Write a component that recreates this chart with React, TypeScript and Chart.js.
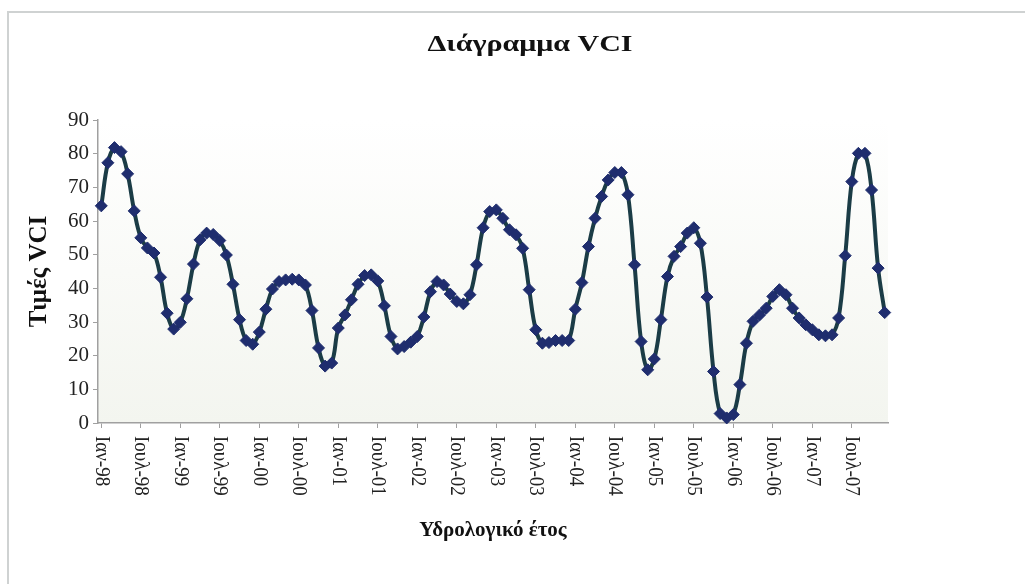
import React, { useEffect, useRef } from 'react';
import { Chart, registerables } from 'chart.js';

Chart.register(...registerables);

const monthNames = ['Ιαν', 'Φεβ', 'Μαρ', 'Απρ', 'Μαϊ', 'Ιουν', 'Ιουλ', 'Αυγ', 'Σεπ', 'Οκτ', 'Νοε', 'Δεκ'];
const years = ['98', '99', '00', '01', '02', '03', '04', '05', '06', '07'];
const categories = years.flatMap((y) => monthNames.map((m) => `${m}-${y}`));

const vciValues = [
  64.5, 77.3, 81.8, 80.6, 74, 63, 55, 52, 50.5, 43.3, 32.6, 27.9,
  29.9, 36.9, 47.2, 54.4, 56.4, 56, 54.2, 49.9, 41.2, 30.7, 24.5, 23.4,
  27, 33.8, 39.8, 42, 42.5, 42.7, 42.5, 41, 33.4, 22.3, 16.9, 17.8,
  28.2, 32.1, 36.6, 41.2, 43.8, 44, 42.2, 34.8, 25.7, 22, 22.7, 24,
  25.7, 31.5, 39, 42, 41, 38.3, 36.1, 35.4, 38.1, 47, 58, 62.8,
  63.3, 60.8, 57.4, 55.9, 51.9, 39.6, 27.7, 23.7, 23.9, 24.5, 24.5, 24.5,
  33.8, 41.7, 52.4, 60.8, 67.3, 72.2, 74.4, 74.4, 67.8, 47, 24.2, 15.8,
  19, 30.7, 43.5, 49.5, 52.4, 56.4, 58, 53.4, 37.4, 15.3, 2.8, 1.5,
  2.5, 11.4, 23.7, 30.2, 32.1, 34.1, 37.6, 39.6, 38.1, 34.1, 31.2, 29.2,
  27.7, 26.2, 25.9, 26.2, 31.2, 49.7, 71.7, 80.1, 80.1, 69.2, 46, 32.8,
];

const yMin = 0;
const yMax = 90;
const yStep = 10;
const labelEvery = 6;

const chartTitle = 'Διάγραμμα VCI';
const yAxisTitle = 'Τιμές VCI';
const xAxisTitle = 'Υδρολογικό έτος';

const FONT = '"Liberation Serif", "Times New Roman", serif';

const decorPlugin = {
  id: 'decor',
  beforeDraw(chart: any) {
    const { ctx, chartArea } = chart;
    ctx.save();
    const g = ctx.createLinearGradient(0, chartArea.top, 0, chartArea.bottom);
    g.addColorStop(0, '#ffffff');
    g.addColorStop(1, '#f3f5ef');
    ctx.fillStyle = g;
    ctx.fillRect(chartArea.left, chartArea.top, chartArea.right - chartArea.left, chartArea.bottom - chartArea.top);
    // outer frame
    ctx.strokeStyle = '#cfd2d2';
    ctx.lineWidth = 2;
    ctx.beginPath();
    ctx.moveTo(8, chart.height);
    ctx.lineTo(8, 12);
    ctx.lineTo(chart.width, 12);
    ctx.stroke();
    ctx.restore();
  },
  afterDraw(chart: any) {
    const { ctx, chartArea } = chart;
    const xScale = chart.scales.x;
    ctx.save();
    // chart title (slightly widened like the scanned original)
    ctx.fillStyle = '#111111';
    ctx.font = `bold 24px ${FONT}`;
    ctx.textAlign = 'center';
    ctx.textBaseline = 'middle';
    ctx.save();
    ctx.translate(530, 45);
    ctx.scale(1.25, 1);
    ctx.fillText(chartTitle, 0, 0);
    ctx.restore();
    // rotated category labels (reading top to bottom)
    ctx.font = `19px ${FONT}`;
    ctx.fillStyle = '#222222';
    ctx.textAlign = 'left';
    ctx.textBaseline = 'middle';
    for (let i = 0; i < categories.length; i += labelEvery) {
      const x = xScale.getPixelForValue(i);
      ctx.save();
      ctx.translate(x, chartArea.bottom + 13);
      ctx.rotate(Math.PI / 2);
      ctx.scale(1, 1.15);
      ctx.fillText(categories[i], 0, 0);
      ctx.restore();
    }
    ctx.restore();
  },
};

export default function App() {
  const canvasRef = useRef<HTMLCanvasElement | null>(null);

  useEffect(() => {
    if (!canvasRef.current) return;
    const chart = new Chart(canvasRef.current, {
      type: 'line',
      data: {
        labels: categories,
        datasets: [
          {
            label: 'VCI',
            data: vciValues,
            borderColor: '#1b3c46',
            borderWidth: 4,
            tension: 0.4,
            pointStyle: 'rectRot',
            pointRadius: 6,
            pointBackgroundColor: '#1f2d6e',
            pointBorderColor: '#1f2d6e',
            pointBorderWidth: 1,
            clip: false,
          },
        ],
      },
      options: {
        animation: false,
        responsive: true,
        maintainAspectRatio: false,
        layout: { padding: { top: 120, right: 137, left: 0, bottom: 0 } },
        plugins: {
          legend: { display: false },
          tooltip: { enabled: false },
          title: { display: false },
        },
        scales: {
          x: {
            type: 'category',
            offset: true,
            grid: {
              drawOnChartArea: false,
              drawTicks: true,
              tickLength: 5,
              color: (c: any) => (c.index % labelEvery === 0 ? '#a0a0a0' : 'rgba(0,0,0,0)'),
            },
            border: { color: '#a0a0a0', width: 1.5 },
            ticks: { display: false, autoSkip: false },
            title: {
              display: true,
              text: xAxisTitle,
              color: '#111111',
              font: { family: FONT, size: 21, weight: 'bold' },
              padding: { top: 0, bottom: 41 },
            },
            afterFit: (s: any) => {
              s.height = 161;
            },
          },
          y: {
            min: yMin,
            max: yMax,
            grid: {
              drawOnChartArea: false,
              drawTicks: true,
              tickLength: 5,
              color: '#a0a0a0',
            },
            border: { color: '#a0a0a0', width: 1.5 },
            ticks: {
              stepSize: yStep,
              color: '#222222',
              padding: 4,
              font: { family: FONT, size: 21 },
            },
            title: {
              display: true,
              text: yAxisTitle,
              color: '#111111',
              font: { family: FONT, size: 25, weight: 'bold' },
              padding: { top: 25, bottom: 0 },
            },
            afterFit: (s: any) => {
              s.width = 98;
            },
          },
        },
      },
      plugins: [decorPlugin],
    });
    return () => chart.destroy();
  }, []);

  return (
    <div style={{ position: 'absolute', left: 0, top: 0, width: 1025, height: 584, background: '#ffffff' }}>
      <canvas ref={canvasRef} />
    </div>
  );
}
